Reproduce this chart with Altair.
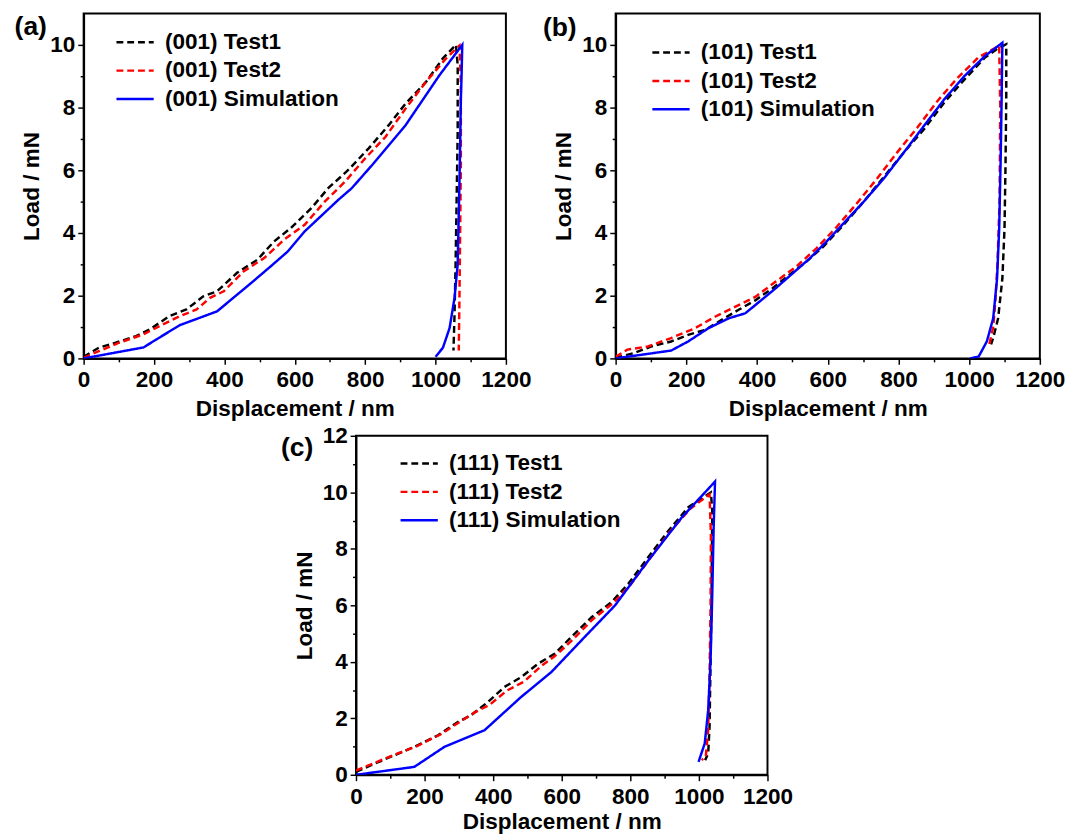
import altair as alt
import pandas as pd

# ---------------- data ----------------
# Panel (a): (001)
A_T1_X = [0, 43, 91, 149, 187, 244, 292, 340, 379, 436, 494, 541, 589, 647, 695, 752, 810, 867, 915, 973, 1021, 1058, 1063, 1063, 1060, 1057, 1054, 1051]
A_T1_Y = [0.05, 0.34, 0.5, 0.71, 0.92, 1.35, 1.56, 1.98, 2.14, 2.73, 3.15, 3.73, 4.16, 4.79, 5.43, 6.01, 6.70, 7.44, 8.13, 8.82, 9.57, 10.0, 9.35, 7.23, 5.1, 3.0, 1.4, 0.25]
A_T2_X = [0, 43, 101, 168, 216, 273, 321, 359, 398, 455, 513, 570, 628, 685, 743, 800, 858, 915, 973, 1030, 1068, 1072, 1072, 1070, 1068, 1066]
A_T2_Y = [0.02, 0.23, 0.5, 0.76, 1.03, 1.35, 1.56, 1.93, 2.14, 2.78, 3.2, 3.79, 4.26, 5.0, 5.64, 6.38, 7.07, 7.97, 8.82, 9.57, 9.98, 8.8, 6.17, 4.05, 1.93, 0.25]
A_SIM_X = [0, 170, 206, 273, 379, 465, 532, 580, 628, 724, 762, 820, 915, 1011, 1076, 1074, 1072, 1069, 1066, 1063, 1054, 1040, 1021, 1000]
A_SIM_Y = [0, 0.35, 0.6, 1.06, 1.5, 2.3, 2.94, 3.41, 4.05, 5.06, 5.43, 6.17, 7.44, 9.03, 10.0, 9.0, 8.29, 6.17, 4.58, 3.0, 1.93, 0.97, 0.34, 0.05]

# Panel (b): (101)
B_T1_X = [0, 52, 100, 157, 205, 253, 300, 348, 396, 444, 491, 539, 587, 644, 701, 758, 816, 873, 930, 987, 1045, 1083, 1105, 1105, 1103, 1100, 1094, 1082, 1068, 1062]
B_T1_Y = [0.02, 0.17, 0.38, 0.54, 0.75, 0.91, 1.23, 1.55, 1.86, 2.24, 2.66, 3.08, 3.56, 4.25, 4.99, 5.78, 6.58, 7.32, 8.17, 8.9, 9.6, 9.9, 10.02, 8.38, 6.26, 4.14, 2.55, 1.28, 0.65, 0.45]
B_T2_X = [0, 33, 91, 157, 224, 281, 339, 396, 453, 510, 568, 625, 682, 739, 797, 854, 911, 968, 1026, 1085, 1088, 1086, 1080, 1074, 1068, 1055]
B_T2_Y = [0.05, 0.28, 0.38, 0.65, 0.96, 1.33, 1.65, 1.97, 2.45, 2.92, 3.51, 4.19, 4.94, 5.73, 6.58, 7.37, 8.22, 8.96, 9.6, 9.97, 8.0, 5.0, 3.0, 1.8, 1.0, 0.35]
B_SIM_X = [0, 157, 205, 262, 320, 367, 453, 549, 596, 644, 701, 758, 816, 873, 930, 987, 1045, 1094, 1092, 1089, 1085, 1079, 1068, 1050, 1027, 1003]
B_SIM_Y = [0, 0.25, 0.54, 0.96, 1.28, 1.44, 2.24, 3.19, 3.72, 4.3, 4.99, 5.73, 6.58, 7.43, 8.27, 9.01, 9.65, 10.07, 8.38, 6.26, 4.14, 2.55, 1.28, 0.54, 0.06, 0.0]

# Panel (c): (111)
C_T1_X = [0, 44, 102, 170, 239, 297, 336, 385, 433, 482, 531, 580, 628, 687, 745, 794, 852, 911, 969, 1035, 1039, 1037, 1034, 1031, 1027, 1018]
C_T1_Y = [0.1, 0.34, 0.64, 0.99, 1.4, 1.87, 2.11, 2.58, 3.11, 3.46, 3.93, 4.29, 4.88, 5.58, 6.11, 6.76, 7.7, 8.64, 9.47, 10.0, 9.34, 6.4, 4.05, 1.69, 0.75, 0.52]
C_T2_X = [0, 50, 110, 175, 245, 300, 345, 390, 440, 490, 540, 585, 635, 690, 750, 800, 855, 915, 975, 1031, 1035, 1034, 1031, 1027, 1020, 1008]
C_T2_Y = [0.15, 0.4, 0.7, 1.0, 1.42, 1.85, 2.2, 2.48, 2.98, 3.3, 3.85, 4.25, 4.82, 5.5, 6.08, 6.72, 7.62, 8.6, 9.42, 9.93, 8.5, 6.0, 3.5, 1.6, 0.64, 0.52]
C_SIM_X = [0, 170, 258, 375, 482, 570, 667, 755, 852, 950, 1047, 1043, 1039, 1034, 1027, 1017, 999]
C_SIM_Y = [0, 0.28, 0.99, 1.58, 2.76, 3.64, 4.88, 5.99, 7.58, 9.11, 10.38, 8.75, 6.4, 4.05, 2.28, 1.11, 0.46]

SERIES_NAMES = ["Test1", "Test2", "Simulation"]
SERIES_COLORS = ["#000000", "#ff0000", "#0000ff"]
SERIES_DASHES = [[7, 4], [7, 4], [1, 0]]
PANEL_LABELS = ["(a)", "(b)", "(c)"]
X_TITLE = "Displacement / nm"
Y_TITLE = "Load / mN"

FONT = "Liberation Sans"
FS = 23


def panel_df(prefix, series):
    rows = []
    for name, xs, ys in series:
        for i, (x, y) in enumerate(zip(xs, ys)):
            rows.append({"series": f"{prefix} {name}", "x": x, "y": y, "i": i})
    return pd.DataFrame(rows)


def make_panel(prefix, series, label, ymax, ytickmax, w, h, lx, ly, lab_dx, lab_dy, title_pad):
    df = panel_df(prefix, series)
    domain = [f"{prefix} {n}" for n in SERIES_NAMES]
    legend = alt.Legend(
        title=None, orient="none", legendX=lx, legendY=ly,
        symbolType="stroke", symbolSize=1444, symbolStrokeWidth=2.5,
        labelFont=FONT, labelFontSize=FS, labelFontWeight="bold", labelColor="black",
        rowPadding=0, clipHeight=28.5, padding=0, labelOffset=10, labelLimit=400,
    )
    xaxis = alt.Axis(
        title=X_TITLE, values=list(range(0, 1201, 100)),
        labelExpr="datum.value % 200 === 0 ? format(datum.value, 'd') : ''",
        tickSize={"condition": {"test": "datum.value % 200 === 0", "value": 6}, "value": 3.5},
        labelPadding=5, titlePadding=title_pad, labelOverlap=False, labelFlush=False,
    )
    yaxis = alt.Axis(
        title=Y_TITLE, values=list(range(0, ytickmax + 1)),
        labelExpr="datum.value % 2 === 0 ? format(datum.value, 'd') : ''",
        tickSize={"condition": {"test": "datum.value % 2 === 0", "value": 6}, "value": 3.5},
        labelPadding=3, titlePadding=6, labelOverlap=False, labelFlush=False,
    )
    lines = alt.Chart(df).mark_line(strokeWidth=2.5, clip=True).encode(
        x=alt.X("x:Q", scale=alt.Scale(domain=[0, 1200], nice=False, zero=False), axis=xaxis),
        y=alt.Y("y:Q", scale=alt.Scale(domain=[0, ymax], nice=False), axis=yaxis),
        color=alt.Color("series:N", scale=alt.Scale(domain=domain, range=SERIES_COLORS), legend=legend, sort=domain),
        strokeDash=alt.StrokeDash("series:N", scale=alt.Scale(domain=domain, range=SERIES_DASHES), legend=legend, sort=domain),
        order="i:Q",
        detail="series:N",
    )
    text = alt.Chart(pd.DataFrame({"t": [label]})).mark_text(
        font=FONT, fontSize=27, fontWeight="bold", align="center", baseline="middle", color="black"
    ).encode(text="t:N", x=alt.value(lab_dx), y=alt.value(lab_dy))
    return alt.layer(lines, text).properties(width=w, height=h)


pa = make_panel("(001)", [("Test1", A_T1_X, A_T1_Y), ("Test2", A_T2_X, A_T2_Y), ("Simulation", A_SIM_X, A_SIM_Y)],
                PANEL_LABELS[0], 11, 10, 431, 352, 32, 15, -54, 14, 6)
pb = make_panel("(101)", [("Test1", B_T1_X, B_T1_Y), ("Test2", B_T2_X, B_T2_Y), ("Simulation", B_SIM_X, B_SIM_Y)],
                PANEL_LABELS[1], 11, 10, 433, 352, 36, 25.5, -57, 15, 6)
pc = make_panel("(111)", [("Test1", C_T1_X, C_T1_Y), ("Test2", C_T2_X, C_T2_Y), ("Simulation", C_SIM_X, C_SIM_Y)],
                PANEL_LABELS[2], 12, 12, 420, 346, 44, 14, -60, 13, 3)

row1 = alt.hconcat(pa, pb, spacing=9).resolve_scale(
    x="independent", y="independent", color="independent", strokeDash="independent"
).resolve_legend(color="independent", strokeDash="independent")

chart = alt.vconcat(row1, pc, spacing=3, center=True).resolve_scale(
    x="independent", y="independent", color="independent", strokeDash="independent"
).resolve_legend(color="independent", strokeDash="independent").configure_axis(
    labelFont=FONT, labelFontSize=FS, labelFontWeight="bold", labelColor="black",
    titleFont=FONT, titleFontSize=FS, titleFontWeight="bold", titleColor="black",
    domainColor="black", domainWidth=2, tickColor="black", tickWidth=1.5, grid=False,
).configure_view(stroke="black", strokeWidth=2).properties(
    background="white", padding={"top": -4, "left": 5, "right": 5, "bottom": 2}
)

chart.save("out.html", embed_options={"renderer": "svg", "actions": False})
